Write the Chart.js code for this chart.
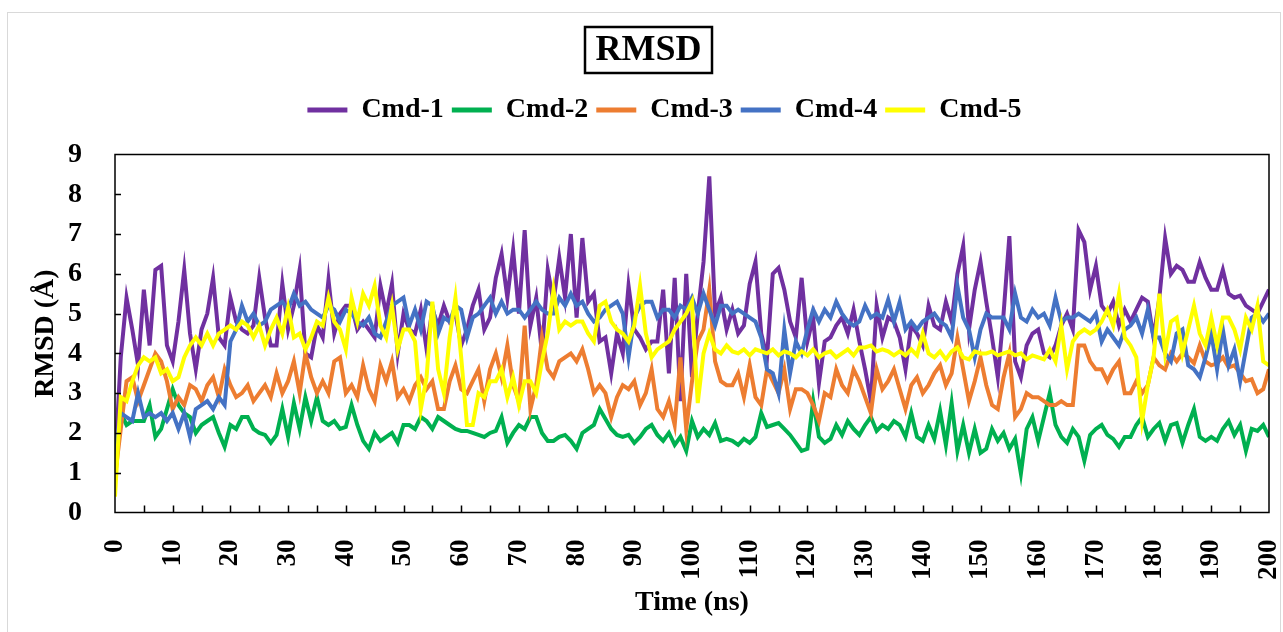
<!DOCTYPE html>
<html>
<head>
<meta charset="utf-8">
<title>RMSD</title>
<script src="https://cdn.jsdelivr.net/npm/chart.js@4.4.1/dist/chart.umd.min.js"></script>
<style>
  html, body { margin: 0; padding: 0; background: #ffffff; }
  #wrap { width: 1283px; height: 632px; }
</style>
</head>
<body>
<div id="wrap"><canvas id="rmsd-chart" width="1283" height="632"></canvas></div>
<script>
// time axis (ns), one sample per ns
const timeNs = Array.from({ length: 201 }, (_, i) => i);

const cmd1 = [
  1.2, 3.9, 5.4, 4.6, 3.7, 5.6, 4.2, 6.1, 6.2, 4.2, 3.8, 4.8, 6.1, 4.5, 3.6, 4.6, 5.0, 5.9, 4.4, 4.2, 5.4, 4.8, 4.6, 4.5, 4.7, 5.9,
  4.9, 4.2, 4.2, 5.75, 4.6, 5.2, 6.1, 4.0, 3.9, 4.7, 4.4, 5.85, 4.5, 5.0, 5.2, 5.2, 4.6, 4.8, 4.6, 4.4, 5.7, 5.0, 5.75, 4.0, 5.0,
  4.6, 4.5, 5.1, 4.1, 5.1, 4.7, 5.2, 4.8, 5.0, 4.2, 4.6, 5.2, 5.6, 4.6, 4.9, 5.9, 6.5, 5.4, 6.6, 5.0, 7.1, 4.7, 5.4, 4.0, 6.1,
  5.3, 6.4, 5.4, 7.0, 4.9, 6.9, 5.3, 5.5, 4.3, 4.4, 3.5, 4.5, 4.0, 5.7, 4.6, 4.4, 4.1, 4.3, 4.3, 5.6, 3.5, 5.9, 2.8, 6.0, 3.4,
  5.0, 6.3, 8.45, 5.0, 5.4, 4.6, 5.1, 4.5, 4.7, 5.75, 6.3, 4.5, 3.9, 6.0, 6.15, 5.6, 4.8, 4.4, 5.9, 4.3, 4.9, 3.25, 4.3, 4.4, 4.7,
  4.9, 4.5, 5.1, 4.3, 3.6, 2.8, 5.2, 4.4, 4.9, 4.8, 4.4, 3.6, 4.7, 4.5, 4.2, 5.2, 4.7, 4.6, 5.3, 4.8, 6.0, 6.7, 4.6, 5.6, 6.3,
  5.3, 4.4, 3.4, 5.0, 6.95, 3.8, 3.4, 4.2, 4.5, 4.6, 4.0, 3.9, 4.2, 4.7, 5.0, 4.6, 7.1, 6.8, 5.6, 6.2, 5.2, 5.0, 5.3, 4.7, 5.1,
  4.8, 5.1, 5.4, 5.3, 4.4, 5.4, 6.9, 6.0, 6.2, 6.1, 5.8, 5.8, 6.3, 5.9, 5.6, 5.6, 6.1, 5.5, 5.4, 5.45, 5.2, 5.1, 5.0, 5.3, 5.6
];

const cmd2 = [
  0.9, 2.5, 2.2, 2.3, 2.3, 2.3, 2.7, 1.9, 2.1, 2.6, 3.1, 2.7, 2.5, 2.4, 2.0, 2.2, 2.3, 2.4, 2.0, 1.65, 2.2, 2.1, 2.4, 2.4, 2.1, 2.0,
  1.95, 1.75, 1.95, 2.6, 1.9, 2.75, 2.1, 2.9, 2.3, 2.9, 2.3, 2.2, 2.3, 2.1, 2.15, 2.7, 2.2, 1.8, 1.6, 2.0, 1.8, 1.9, 2.0, 1.75, 2.2,
  2.2, 2.1, 2.4, 2.3, 2.1, 2.4, 2.3, 2.2, 2.1, 2.05, 2.05, 2.0, 1.95, 1.9, 2.0, 2.05, 2.4, 1.75, 2.0, 2.2, 2.1, 2.4, 2.4, 2.0, 1.8,
  1.8, 1.9, 1.95, 1.8, 1.6, 2.0, 2.1, 2.2, 2.6, 2.35, 2.1, 1.95, 1.9, 1.95, 1.75, 1.9, 2.1, 2.2, 1.95, 1.8, 2.0, 1.7, 1.9, 1.55, 2.3,
  1.9, 2.1, 1.95, 2.25, 1.8, 1.85, 1.8, 1.7, 1.85, 1.75, 1.9, 2.5, 2.15, 2.2, 2.25, 2.1, 1.95, 1.75, 1.55, 1.6, 2.8, 1.9, 1.75, 1.85, 2.2,
  1.95, 2.3, 2.1, 1.95, 2.2, 2.4, 2.05, 2.2, 2.1, 2.3, 2.2, 1.9, 2.5, 1.9, 1.8, 2.2, 1.85, 2.55, 1.7, 2.75, 1.55, 2.2, 1.5, 2.1, 1.5,
  1.6, 2.1, 1.8, 2.0, 1.6, 1.85, 0.98, 2.1, 2.4, 1.8, 2.4, 3.0, 2.2, 1.9, 1.75, 2.1, 1.9, 1.3, 1.95, 2.1, 2.2, 1.95, 1.85, 1.65, 1.9,
  1.9, 2.2, 2.4, 1.9, 2.1, 2.25, 1.8, 2.2, 2.25, 1.75, 2.2, 2.6, 1.9, 1.8, 1.9, 1.8, 2.1, 2.3, 1.95, 2.2, 1.55, 2.1, 2.05, 2.2, 1.9
];

const cmd3 = [
  0.9, 2.1, 3.3, 3.4, 2.8, 3.2, 3.6, 4.0, 3.8, 3.3, 2.6, 2.9, 2.7, 3.2, 3.1, 2.8, 3.2, 3.4, 2.9, 3.6, 3.2, 2.9, 3.0, 3.2, 2.8, 3.0,
  3.2, 2.9, 3.5, 3.0, 3.3, 3.8, 3.0, 4.0, 3.4, 3.0, 3.3, 3.0, 3.8, 3.9, 3.0, 3.2, 2.9, 3.7, 3.1, 2.8, 3.7, 3.3, 3.8, 2.9, 3.1,
  2.8, 3.2, 3.4, 3.1, 3.3, 2.6, 2.6, 3.3, 3.7, 3.1, 3.0, 3.3, 3.6, 2.8, 3.6, 4.0, 3.4, 4.2, 3.2, 2.8, 4.7, 2.6, 3.2, 4.4, 3.6,
  3.4, 3.8, 3.9, 4.0, 3.8, 4.1, 3.6, 3.0, 3.2, 3.0, 2.4, 2.9, 3.2, 3.1, 3.3, 2.7, 3.0, 3.6, 2.6, 2.4, 2.8, 2.2, 3.9, 2.1, 3.3,
  4.3, 4.6, 5.6, 3.8, 3.3, 3.2, 3.2, 3.5, 2.9, 3.7, 2.9, 2.7, 3.6, 3.3, 3.0, 3.6, 2.6, 3.1, 3.1, 3.0, 2.7, 2.3, 3.0, 2.9, 3.6,
  3.2, 3.0, 3.6, 3.3, 2.9, 2.5, 3.6, 3.1, 3.3, 3.6, 3.1, 2.6, 3.2, 3.4, 3.0, 3.2, 3.5, 3.7, 3.2, 3.5, 4.4, 3.6, 2.8, 3.3, 3.9,
  3.2, 2.7, 2.6, 3.4, 4.0, 2.4, 2.6, 3.0, 2.9, 2.9, 2.8, 2.7, 2.7, 2.8, 2.7, 2.7, 4.2, 4.2, 3.8, 3.6, 3.6, 3.3, 3.6, 3.8, 3.0,
  3.0, 3.3, 3.0, 3.2, 3.9, 3.7, 3.6, 4.0, 3.8, 4.0, 3.9, 3.75, 4.2, 3.8, 3.7, 3.75, 3.9, 3.65, 3.7, 3.5, 3.3, 3.35, 3.0, 3.1, 3.6
];

const cmd4 = [
  1.5, 2.5, 2.4, 2.3, 3.0, 2.4, 2.5, 2.4, 2.5, 2.3, 2.5, 2.1, 2.5, 1.9, 2.6, 2.7, 2.8, 2.6, 2.9, 2.7, 4.3, 4.6, 5.2, 4.8, 5.0, 4.7,
  4.8, 5.1, 5.2, 5.3, 5.1, 5.5, 5.2, 5.3, 5.1, 5.0, 4.9, 5.2, 5.1, 4.8, 5.1, 5.0, 4.8, 4.7, 4.9, 4.5, 4.4, 4.8, 5.2, 5.3, 5.4,
  4.7, 5.1, 4.6, 5.3, 5.2, 4.5, 4.9, 4.8, 5.2, 5.1, 4.4, 4.9, 5.0, 5.2, 5.4, 5.0, 5.3, 5.0, 5.1, 5.1, 4.9, 5.1, 5.3, 5.1, 5.0,
  5.0, 5.4, 5.2, 5.5, 5.2, 5.3, 5.0, 4.8, 4.9, 5.1, 5.2, 5.3, 5.0, 3.9, 4.9, 5.2, 5.3, 5.3, 4.9, 5.1, 5.1, 4.9, 5.2, 5.1, 5.4,
  5.0, 5.5, 5.1, 4.7, 5.2, 5.2, 5.0, 5.1, 5.0, 4.9, 4.8, 4.4, 3.6, 3.5, 3.0, 4.6, 3.5, 4.3, 4.0, 4.6, 5.1, 4.8, 5.1, 4.9, 5.3,
  5.0, 4.8, 4.7, 4.8, 5.2, 4.9, 5.0, 4.9, 5.35, 4.8, 5.3, 4.6, 4.8, 4.6, 4.8, 4.9, 5.0, 4.8, 4.7, 4.4, 5.7, 4.9, 4.6, 3.9, 4.6,
  5.0, 4.9, 4.9, 4.9, 4.6, 5.5, 4.9, 4.8, 5.1, 4.9, 5.0, 4.7, 5.4, 4.8, 4.9, 4.9, 5.0, 4.9, 4.8, 5.0, 4.3, 4.6, 4.4, 4.2, 4.6,
  4.7, 4.9, 4.5, 5.1, 4.4, 4.4, 4.0, 3.8, 4.5, 4.6, 3.7, 3.6, 3.4, 3.9, 4.5, 3.6, 4.6, 3.7, 4.1, 3.3, 4.1, 4.9, 5.0, 4.8, 5.0
];

const cmd5 = [
  0.4, 2.9, 2.8, 3.3, 3.7, 3.9, 3.8, 3.9, 3.5, 3.6, 3.3, 3.4, 3.9, 4.2, 4.4, 4.2, 4.5, 4.2, 4.5, 4.6, 4.7, 4.6, 4.8, 4.7, 4.4, 4.7,
  4.2, 4.6, 4.9, 4.5, 5.15, 4.4, 4.5, 4.1, 4.4, 4.8, 4.7, 5.4, 4.8, 4.6, 4.1, 5.4, 4.8, 5.5, 5.2, 5.7, 4.7, 4.4, 5.2, 4.1, 4.6,
  4.6, 4.3, 2.6, 3.4, 5.3, 3.6, 3.0, 4.4, 5.4, 3.9, 2.2, 2.2, 3.0, 2.9, 3.3, 3.3, 3.6, 2.9, 3.4, 2.7, 3.3, 3.3, 3.0, 3.8, 4.5,
  5.6, 4.6, 4.8, 4.7, 4.8, 4.8, 4.5, 4.3, 5.2, 5.3, 4.8, 4.6, 4.5, 4.3, 4.7, 5.7, 4.5, 3.9, 4.1, 4.2, 4.3, 4.6, 4.8, 5.0, 5.3,
  2.75, 4.0, 4.5, 4.1, 4.0, 4.2, 4.05, 4.0, 4.1, 3.95, 4.1, 4.05, 4.0, 4.1, 3.95, 4.05, 4.0, 3.9, 4.05, 3.95, 4.1, 3.9, 4.0, 4.05, 3.9,
  4.0, 4.1, 3.95, 4.15, 4.15, 4.2, 4.05, 4.1, 4.05, 3.95, 4.05, 3.95, 4.1, 3.95, 4.5, 4.0, 3.9, 4.05, 3.85, 4.05, 4.15, 3.9, 3.85, 4.05, 4.0,
  4.0, 4.05, 3.95, 4.0, 4.05, 3.95, 4.0, 3.85, 3.95, 3.9, 3.85, 4.1, 3.8, 4.7, 3.6, 4.3, 4.5, 4.6, 4.5, 4.6, 4.8, 5.1, 4.7, 5.5, 4.4,
  4.2, 3.9, 2.3, 3.2, 3.9, 5.5, 4.0, 4.8, 4.9, 4.0, 4.6, 5.2, 4.5, 4.2, 4.9, 4.2, 4.9, 4.9, 4.6, 4.1, 4.9, 4.6, 5.2, 3.8, 3.7
];

const FONT = "'Liberation Serif', 'Times New Roman', serif";

// outer frame, boxed title, plot border and inward tick marks
const framePlugin = {
  id: 'frame',
  beforeDraw(chart) {
    const ctx = chart.ctx;
    ctx.save();
    ctx.strokeStyle = '#d9d9d9';
    ctx.lineWidth = 1;
    ctx.strokeRect(7.5, 12.5, 1273, 640);

    ctx.strokeStyle = '#000';
    ctx.lineWidth = 2.5;
    ctx.strokeRect(585, 27, 127, 46);
    ctx.fillStyle = '#000';
    ctx.font = 'bold 36px ' + FONT;
    ctx.textAlign = 'center';
    ctx.textBaseline = 'middle';
    ctx.fillText('RMSD', 648.5, 51);
    ctx.restore();
  },
  afterDraw(chart) {
    const { ctx, chartArea: a, scales: { x, y } } = chart;
    ctx.save();
    ctx.strokeStyle = '#000';
    ctx.lineWidth = 1.5;
    ctx.strokeRect(a.left, a.top, a.right - a.left, a.bottom - a.top);
    ctx.beginPath();
    for (let t = 5; t < 200; t += 5) {
      const px = Math.round(x.getPixelForValue(t)) + 0.5;
      ctx.moveTo(px, a.bottom);
      ctx.lineTo(px, a.bottom - 7);
    }
    for (let v = 1; v < 9; v++) {
      const py = Math.round(y.getPixelForValue(v)) + 0.5;
      ctx.moveTo(a.left, py);
      ctx.lineTo(a.left + 6, py);
    }
    ctx.stroke();
    ctx.restore();
  }
};

// extra room between legend and plot
const legendGap = {
  id: 'legendGap',
  beforeInit(chart) {
    const fit = chart.legend.fit;
    chart.legend.fit = function () {
      fit.bind(chart.legend)();
      this.height += 20.5;
    };
  }
};

function makeSet(label, data, color, order) {
  return {
    label: label,
    data: data,
    borderColor: color,
    backgroundColor: color,
    borderWidth: 4,
    pointRadius: 0,
    tension: 0,
    fill: false,
    order: order     // later series drawn on top
  };
}

const ctx = document.getElementById('rmsd-chart').getContext('2d');
const rmsdChart = new Chart(ctx, {
  type: 'line',
  data: {
    labels: timeNs,
    datasets: [
      makeSet('Cmd-1', cmd1, '#7030A0', 5),
      makeSet('Cmd-2', cmd2, '#00B050', 4),
      makeSet('Cmd-3', cmd3, '#ED7D31', 3),
      makeSet('Cmd-4', cmd4, '#4472C4', 2),
      makeSet('Cmd-5', cmd5, '#FFFF00', 1)
    ]
  },
  options: {
    responsive: false,
    devicePixelRatio: 1,
    animation: false,
    layout: { padding: { top: 88, left: 60, right: 14, bottom: 0 } },
    plugins: {
      tooltip: { enabled: false },
      title: { display: false },
      legend: {
        position: 'top',
        labels: {
          color: '#000',
          boxWidth: 40,
          boxHeight: 5,
          padding: 8,
          font: { family: FONT, size: 28, weight: 'bold' },
          sort: (a, b) => a.datasetIndex - b.datasetIndex,
          generateLabels: (chart) =>
            Chart.defaults.plugins.legend.labels.generateLabels(chart).map(l => Object.assign(l, { lineWidth: 0 }))
        }
      }
    },
    scales: {
      x: {
        type: 'linear',
        min: 0,
        max: 200,
        grid: { display: false },
        border: { display: false },
        ticks: {
          stepSize: 10,
          minRotation: 90,
          maxRotation: 90,
          padding: 19,
          color: '#000',
          font: { family: FONT, size: 27, weight: 'bold' }
        },
        title: {
          display: true,
          text: 'Time (ns)',
          color: '#000',
          font: { family: FONT, size: 28, weight: 'bold' },
          padding: { top: 0, bottom: 12 }
        },
        afterFit: (scale) => {
          scale.height = 119.5;
          scale.paddingLeft = 0;
          scale.paddingRight = 0;
        }
      },
      y: {
        min: 0,
        max: 9,
        grid: { display: false },
        border: { display: false },
        ticks: {
          stepSize: 1,
          padding: 25,
          color: '#000',
          font: { family: FONT, size: 28, weight: 'bold' }
        },
        title: {
          display: true,
          text: 'RMSD (Å)',
          color: '#000',
          font: { family: FONT, size: 28, weight: 'bold' },
          padding: { top: -31, bottom: 0 }
        },
        afterFit: (scale) => {
          scale.width = 55;
          scale.paddingTop = 0;
          scale.paddingBottom = 0;
        }
      }
    }
  },
  plugins: [framePlugin, legendGap]
});
</script>
</body>
</html>
